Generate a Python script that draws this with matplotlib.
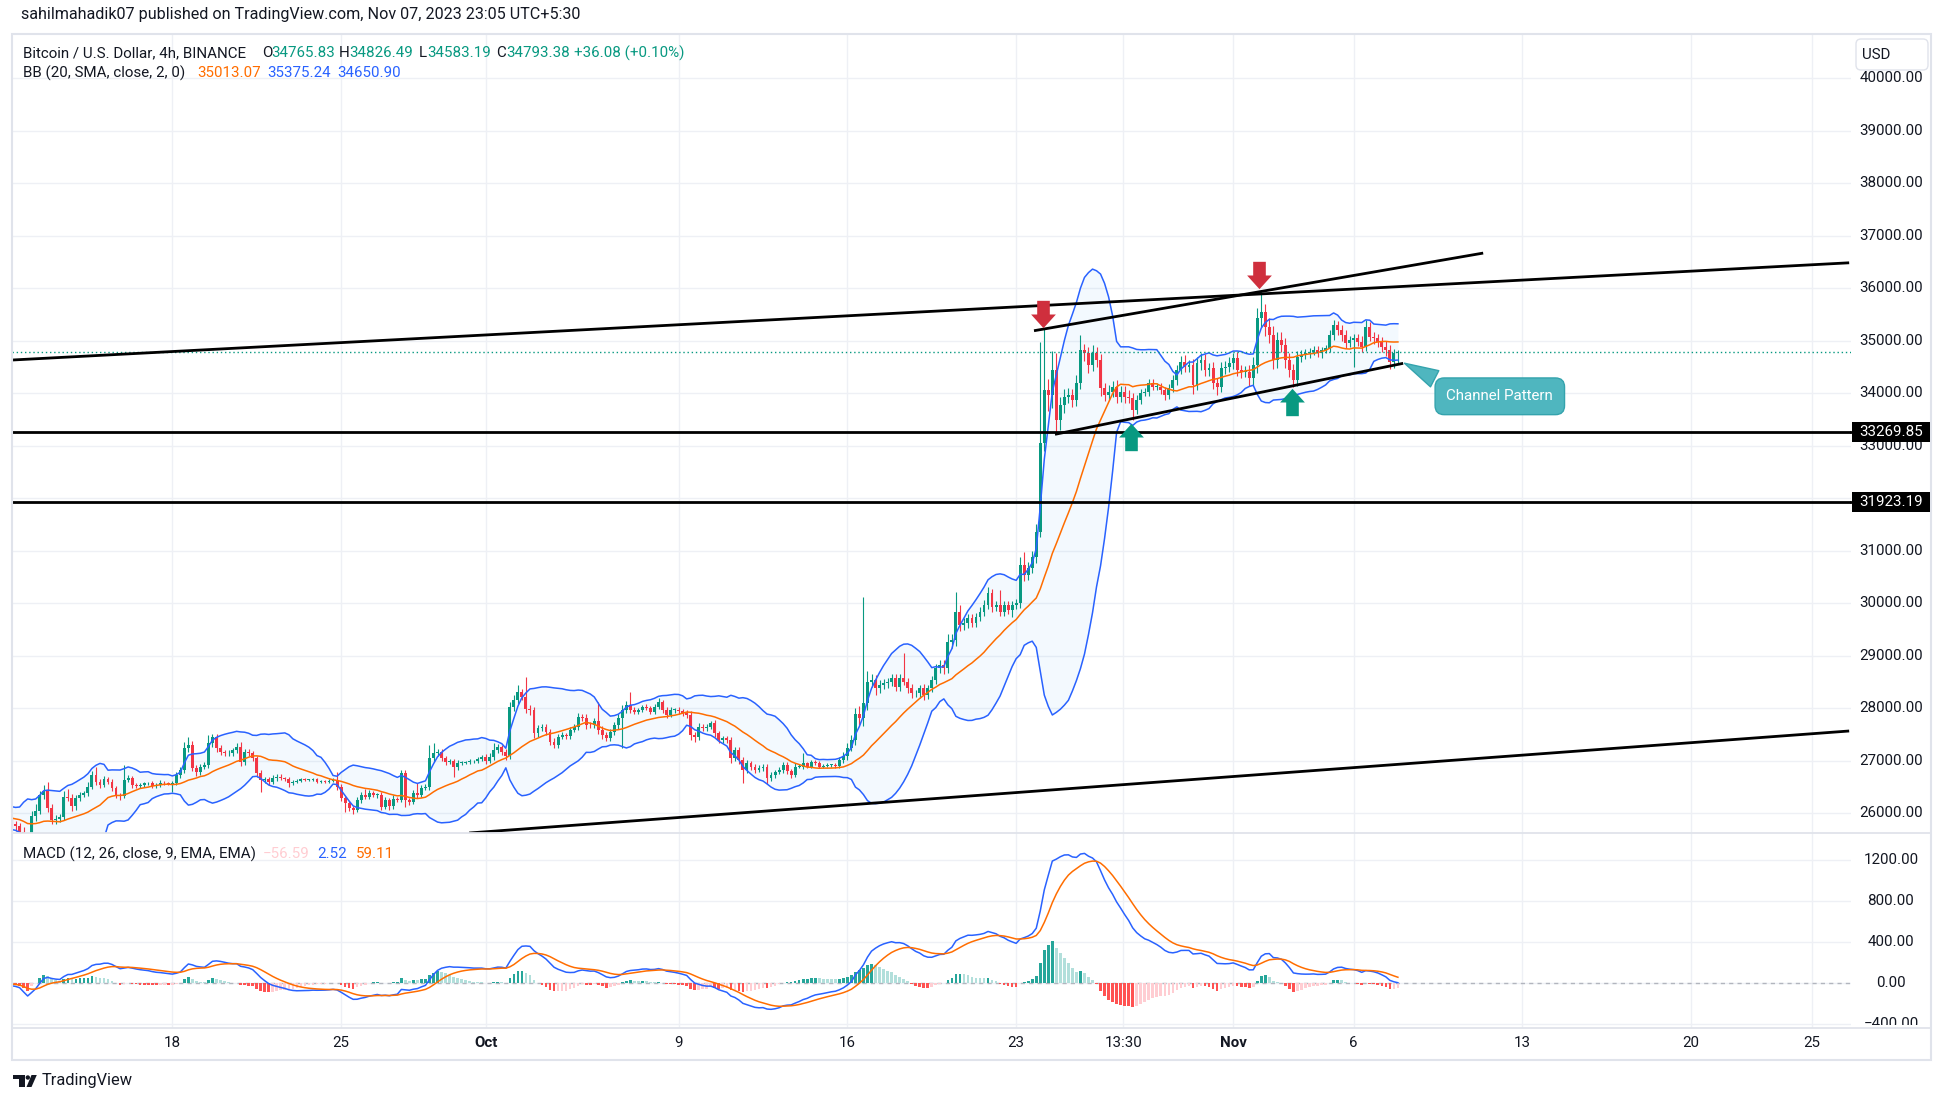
import numpy as np
import pandas as pd
import matplotlib
matplotlib.use("Agg")
import matplotlib.pyplot as plt
from matplotlib import transforms
from matplotlib.lines import Line2D
from matplotlib.patches import Rectangle, FancyBboxPatch, Polygon, Circle

plt.rcParams['font.family'] = ['Roboto', 'DejaVu Sans']

W, H = 1946, 1104
FS = 10.9
TXT = '#131722'
UP, DOWN = '#089981', '#f23645'

# time axis: days since Sep 1 (local UTC+5:30), one bar every 4h
first_bar = 10 + 8 / 24      # Sep 11 08:00

# closes before the visible range (only feed the indicators)
warmup_close = [25780, 25820, 25760, 25790,
                25740, 25680, 25810, 25700, 25750, 25760,
                25790, 25850, 26050, 26180, 26220, 26240,
                26150, 26050, 25950, 25900, 25980, 26050,
                25950, 26000, 25920, 26010, 25970, 25980,
                26020, 25900, 25700, 25650, 25780, 25820,
                25880, 25870]

# 4h closes, Sep 11 08:00 -> Nov 7 20:00
close = [25800, 25750, 25650, 25250,
         25150, 25950, 26050, 26350, 26430, 26100,
         25870, 25900, 25930, 26320, 26300, 26130,
         26290, 26350, 26380, 26510, 26730, 26600,
         26540, 26660, 26600, 26475, 26350, 26330,
         26635, 26665, 26540, 26520, 26540, 26570,
         26570, 26520, 26540, 26585, 26570, 26560,
         26570, 26730, 26820, 27240, 27300, 26860,
         26790, 26890, 26920, 27333, 27460, 27240,
         27170, 27140, 27150, 27200, 27270, 26980,
         27170, 27140, 27050, 26760, 26640, 26650,
         26600, 26670, 26700, 26670, 26650, 26570,
         26600, 26620, 26650, 26640, 26640, 26650,
         26600, 26610, 26600, 26620, 26640, 26510,
         26285, 26190, 26095, 26060, 26250, 26350,
         26320, 26380, 26350, 26350, 26125, 26250,
         26130, 26280, 26250, 26760, 26250, 26220,
         26380, 26350, 26490, 26500, 27050, 27140,
         27170, 27050, 26980, 26990, 26890, 26960,
         26960, 26970, 26990, 26990, 27040, 27065,
         27000, 27080, 27205, 27256, 27174, 27100,
         28031, 28158, 28317, 28222, 27990, 27968,
         27523, 27618, 27650, 27555, 27364, 27300,
         27460, 27490, 27470, 27587, 27650, 27840,
         27810, 27682, 27680, 27764, 27587, 27491,
         27430, 27555, 27680, 27809, 27968, 28063,
         27968, 27936, 27968, 28031, 28000, 27936,
         28031, 28126, 27968, 27873, 27968, 27968,
         27940, 27905, 27873, 27491, 27460, 27650,
         27620, 27650, 27713, 27523, 27396, 27430,
         27396, 27047, 27205, 27015, 26825, 26950,
         26890, 26825, 26860, 26890, 26666, 26730,
         26790, 26825, 26920, 26800, 26730, 26890,
         26890, 26950, 26890, 26984, 26965, 26890,
         26900, 26920, 26920, 26900, 27015, 27100,
         27250, 27400, 27890, 27810, 28094, 28507,
         28540, 28380, 28440, 28475, 28507, 28571,
         28412, 28571, 28507, 28380, 28285, 28285,
         28380, 28253, 28380, 28539, 28761, 28825,
         28761, 29269, 29300, 29841, 29587, 29620,
         29714, 29620, 29746, 29841, 29968, 30190,
         29936, 29968, 29841, 29968, 29873, 29968,
         30000, 30730, 30540, 30666, 30889, 31365,
         33048, 34064, 33968, 34450, 33500, 33778,
         33937, 33969, 33874, 34191, 34826, 34762,
         34540, 34762, 34636, 34096, 33969, 34033,
         34127, 33937, 34033, 33937, 33920, 33683,
         33874, 34001, 34033, 34191, 34127, 34127,
         34064, 33969, 34096, 34255, 34445, 34604,
         34509, 34540, 34159, 34572, 34636, 34445,
         34477, 34191, 34127, 34477, 34509, 34572,
         34667, 34445, 34413, 34413, 34286, 34540,
         35429, 35556, 35271, 35112, 34636, 35017,
         34921, 34636, 34445, 34255, 34699, 34731,
         34762, 34794, 34826, 34762, 34826, 34858,
         35112, 35302, 35207, 35112, 34953, 35017,
         35048, 34985, 34890, 35270, 35080, 35048,
         34985, 34890, 34826, 34604, 34766, 34793]

# wick length above / below the body, in USD
wick_up = [60, 50, 70, 80,
           60, 90, 120, 80, 110, 170,
           70, 60, 50, 100, 140, 60,
           50, 60, 40, 80, 70, 160,
           60, 50, 40, 60, 50, 40,
           285, 60, 40, 30, 40, 30,
           30, 40, 30, 40, 30, 30,
           40, 50, 60, 120, 160, 80,
           60, 40, 50, 157, 60, 60,
           60, 40, 50, 40, 60, 80,
           50, 60, 40, 50, 60, 50,
           50, 60, 40, 40, 30, 40,
           30, 40, 30, 30, 20, 30,
           30, 20, 30, 30, 30, 150,
           40, 50, 40, 40, 60, 50,
           120, 60, 50, 40, 60, 60,
           50, 60, 40, 70, 60, 50,
           60, 190, 50, 60, 250, 190,
           60, 50, 40, 50, 40, 50,
           40, 30, 40, 30, 40, 40,
           60, 70, 125, 60, 50, 60,
           80, 100, 127, 60, 378, 80,
           60, 70, 60, 50, 60, 80,
           50, 60, 40, 50, 60, 80,
           60, 80, 50, 60, 362, 80,
           50, 60, 50, 80, 90, 80,
           254, 50, 40, 40, 50, 40,
           60, 70, 40, 50, 50, 40,
           50, 40, 60, 70, 60, 70,
           60, 50, 50, 60, 50, 40,
           50, 60, 60, 50, 60, 70,
           50, 40, 60, 50, 40, 50,
           40, 50, 60, 50, 50, 60,
           40, 190, 30, 40, 30, 30,
           30, 30, 20, 30, 60, 70,
           80, 90, 120, 150, 2030, 200,
           120, 100, 90, 80, 70, 90,
           80, 90, 477, 70, 80, 60,
           70, 80, 60, 80, 90, 100,
           90, 150, 120, 381, 120, 100,
           80, 90, 70, 80, 90, 120,
           90, 80, 285, 80, 70, 80,
           90, 150, 254, 120, 110, 150,
           1936, 1175, 200, 349, 317, 150,
           150, 130, 120, 150, 286, 120,
           120, 150, 120, 110, 100, 120,
           100, 120, 110, 100, 120, 90,
           90, 80, 70, 80, 90, 70,
           70, 60, 80, 90, 100, 110,
           120, 100, 110, 120, 130, 110,
           100, 110, 100, 120, 110, 120,
           110, 120, 100, 110, 120, 150,
           200, 413, 150, 160, 170, 150,
           150, 140, 130, 120, 110, 100,
           80, 70, 80, 70, 60, 70,
           90, 100, 80, 90, 100, 80,
           80, 90, 100, 120, 90, 80,
           90, 80, 100, 90, 80, 33]

wick_dn = [80, 90, 250, 200,
           250, 100, 90, 60, 80, 70,
           80, 70, 60, 50, 60, 90,
           60, 50, 40, 50, 40, 70,
           60, 40, 50, 50, 60, 80,
           40, 40, 50, 40, 30, 40,
           30, 40, 30, 30, 40, 30,
           150, 40, 50, 60, 80, 60,
           80, 60, 40, 60, 70, 80,
           60, 50, 40, 50, 60, 80,
           60, 40, 50, 70, 230, 60,
           60, 40, 50, 40, 40, 60,
           30, 20, 30, 30, 20, 30,
           30, 30, 20, 30, 30, 60,
           60, 160, 60, 80, 40, 50,
           40, 50, 40, 60, 60, 50,
           60, 50, 40, 40, 130, 60,
           50, 60, 40, 50, 60, 80,
           50, 60, 60, 50, 190, 60,
           40, 30, 30, 40, 30, 40,
           60, 50, 60, 50, 70, 80,
           60, 80, 70, 60, 80, 100,
           80, 60, 50, 60, 70, 60,
           60, 50, 60, 50, 40, 60,
           50, 70, 60, 50, 80, 70,
           60, 50, 60, 70, 569, 60,
           50, 40, 40, 40, 30, 50,
           40, 50, 60, 50, 40, 50,
           50, 60, 60, 90, 100, 60,
           50, 60, 40, 60, 60, 50,
           60, 80, 60, 70, 255, 60,
           60, 50, 40, 50, 100, 50,
           50, 40, 50, 60, 50, 40,
           30, 40, 30, 30, 40, 30,
           30, 20, 30, 30, 40, 50,
           80, 60, 90, 120, 150, 120,
           100, 120, 80, 70, 90, 80,
           90, 80, 70, 90, 80, 70,
           80, 90, 70, 60, 80, 90,
           100, 90, 120, 110, 120, 90,
           90, 80, 70, 80, 90, 70,
           100, 90, 80, 90, 80, 127,
           80, 90, 120, 100, 90, 120,
           100, 150, 300, 250, 280, 200,
           150, 120, 130, 110, 100, 150,
           150, 120, 130, 150, 120, 100,
           110, 120, 100, 120, 110, 190,
           80, 70, 60, 80, 70, 60,
           80, 90, 70, 80, 90, 80,
           100, 110, 180, 100, 120, 110,
           120, 110, 150, 100, 110, 100,
           100, 110, 120, 100, 150, 130,
           150, 160, 170, 150, 180, 160,
           130, 150, 140, 127, 120, 110,
           70, 80, 60, 70, 80, 60,
           80, 90, 100, 110, 90, 80,
           508, 90, 100, 80, 90, 100,
           100, 110, 120, 150, 130, 183]

# drawings (day, price)
resist_line_x, resist_line_y = [10.35, 86.55], [34634, 36486]
chan_top_x, chan_top_y = [52.74, 71.37], [35192, 36671]
chan_bot_x, chan_bot_y = [53.61, 68.05], [33219, 34571]
support_line_x, support_line_y = [29.31, 86.55], [25625, 27568]
levels = [33269.85, 31923.19]
sell_arrows_x, sell_arrows_y = [53.13, 62.08], [35516, 36250]
buy_arrows_x, buy_arrows_y = [56.76, 63.43], [33170, 33844]
callout_tip = (68.0, 34598)
callout_box = (72.06, 33943)

date_ticks = [17, 24, 30, 38, 45, 52, 56.44, 61, 66, 73, 80, 85]
date_labels = ['18', '25', 'Oct', '9', '16', '23', '13:30', 'Nov', '6', '13', '20', '25']
price_ticks = [26000, 27000, 28000, 29000, 30000, 31000, 33000, 34000,
               35000, 36000, 37000, 38000, 39000, 40000]
macd_ticks = [1200, 800, 400, 0, -400]

# indicators
allc = pd.Series(warmup_close + close, dtype=float)
nw = len(warmup_close)
t_all = first_bar + (np.arange(len(allc)) - nw) / 6
basis = allc.rolling(20).mean()
dev = allc.rolling(20).std(ddof=0)
upper, lower = basis + 2 * dev, basis - 2 * dev
macd = allc.ewm(span=12, adjust=False).mean() - allc.ewm(span=26, adjust=False).mean()
signal = macd.ewm(span=9, adjust=False).mean()
hist = (macd - signal).values

o = np.r_[allc.values[nw - 1:-1]]
c = np.array(close, float)
t = t_all[nw:]
hi = np.maximum(o, c) + np.array(wick_up)
lo = np.minimum(o, c) - np.array(wick_dn)

fig = plt.figure(figsize=(W / 100, H / 100), dpi=100)
px = transforms.Affine2D().scale(1 / W, -1 / H).translate(0, 1) + fig.transFigure


def fx(x):
    return x / W


def fy(y):
    return 1 - y / H


ax = fig.add_axes([fx(12), fy(833), fx(1851) - fx(12), fy(34) - fy(833)])
axm = fig.add_axes([fx(12), fy(1028), fx(1851) - fx(12), fy(833) - fy(1028)])
xl = (10.351, 86.626)
for a in (ax, axm):
    a.set_xlim(*xl)
    a.set_xticks([])
    a.set_yticks([])
    for s in a.spines.values():
        s.set_visible(False)
    for d in date_ticks:
        a.axvline(d, color='#eef0f5', lw=1, zorder=0)
ax.set_ylim(25625, 40844)
axm.set_ylim(-439, 1463)
for v in range(26000, 41000, 1000):
    ax.axhline(v, color='#eef0f5', lw=1, zorder=0)
for v in macd_ticks:
    axm.axhline(v, color='#eef0f5', lw=1, zorder=0)

# bollinger bands
ax.fill_between(t_all, lower, upper, color='#2196f3', alpha=0.05, lw=0, zorder=1)

# candles
col = np.where(c >= o, UP, DOWN)
ax.vlines(t, lo, hi, colors=col, lw=0.8, zorder=2)
ax.bar(t, np.maximum(np.abs(c - o), 10), bottom=np.minimum(o, c), width=0.12,
       color=col, linewidth=0, zorder=2)

ax.plot(t_all, upper, color='#2962ff', lw=1.1, zorder=3)
ax.plot(t_all, lower, color='#2962ff', lw=1.1, zorder=3)
ax.plot(t_all, basis, color='#ff6d00', lw=1.1, zorder=3)

ax.axhline(close[-1], color=UP, lw=1, ls=(0, (1, 2)), zorder=3)

# drawings
for xs, ys in [(resist_line_x, resist_line_y), (chan_top_x, chan_top_y),
               (chan_bot_x, chan_bot_y), (support_line_x, support_line_y)]:
    ax.plot(xs, ys, color='black', lw=2, zorder=5, solid_capstyle='butt')
for lv in levels:
    ax.axhline(lv, color='black', lw=2, zorder=5)

down_arrow = [(-6.3, 13.65), (6.3, 13.65), (6.3, 0), (12.35, 0), (0, -13.65),
              (-12.35, 0), (-6.3, 0), (-6.3, 13.65)]
up_arrow = [(x, -y) for x, y in down_arrow]
ax.plot(sell_arrows_x, sell_arrows_y, ls='none', marker=down_arrow, ms=19.7,
        color='#cf2f3d', mew=0, zorder=6)
ax.plot(buy_arrows_x, buy_arrows_y, ls='none', marker=up_arrow, ms=19.7,
        color='#089981', mew=0, zorder=6)

ax.annotate('Channel Pattern', xy=callout_tip, xytext=callout_box, ha='center', va='center',
            color='white', fontsize=FS, zorder=7, annotation_clip=False,
            bbox=dict(boxstyle='round,pad=0.75,rounding_size=0.6', fc='#4fb6bf', ec='#34a3ad', lw=1),
            arrowprops=dict(arrowstyle='wedge,tail_width=1.2,shrink_factor=0.5',
                            fc='#4fb6bf', ec='#34a3ad', lw=1, relpos=(0.12, 0.85)))

# macd pane
hcol = []
for i, h in enumerate(hist):
    prev = hist[i - 1] if i > 0 else h
    if h >= 0:
        hcol.append('#26a69a' if h > prev else '#b2dfdb')
    else:
        hcol.append('#ff5252' if h < prev else '#ffcdd2')
axm.axhline(0, color='#b2b5be', lw=1, ls=(0, (3, 3)), zorder=1)
axm.bar(t_all, hist, width=0.11, color=hcol, linewidth=0, zorder=2)
axm.plot(t_all, macd, color='#2962ff', lw=1.1, zorder=3)
axm.plot(t_all, signal, color='#ff6d00', lw=1.1, zorder=3)

# price scale
ytr = transforms.blended_transform_factory(fig.transFigure, ax.transData)
for v in price_ticks:
    fig.text(fx(1891), v, f'{v:.2f}', transform=ytr, ha='center', va='center',
             fontsize=FS, color=TXT)
hh = 10 * (40844 - 25625) / 799
for lv in levels:
    fig.add_artist(Rectangle((fx(1852), lv - hh), fx(1930) - fx(1852), 2 * hh,
                             transform=ytr, fc='black', ec='none', zorder=4))
    fig.text(fx(1891), lv, f'{lv:.2f}', transform=ytr, ha='center', va='center',
             fontsize=FS, color='white', zorder=5)
    fig.add_artist(Line2D([fx(1851), fx(1852)], [lv, lv], transform=ytr, color='black', lw=2))

ytm = transforms.blended_transform_factory(fig.transFigure, axm.transData)
clip = transforms.TransformedBbox(transforms.Bbox.from_extents(0, fy(1025), 1, fy(833)),
                                  fig.transFigure)
for v in macd_ticks:
    lab = f'{v:.2f}'.replace('-', '\u2212')
    tx = fig.text(fx(1891), v, lab, transform=ytm, ha='center', va='center',
                  fontsize=FS, color=TXT)
    tx.set_clip_box(clip)
    tx.set_clip_on(True)

fig.add_artist(FancyBboxPatch((1856, 39), 72, 31, boxstyle='round,pad=0,rounding_size=5',
                              transform=px, fc='white', ec='#e0e3eb', lw=1))
fig.text(1862, 55, 'USD', transform=px, va='center', fontsize=FS, color=TXT)

# time scale
xtr = transforms.blended_transform_factory(axm.transData, fig.transFigure)
for d, lab in zip(date_ticks, date_labels):
    fig.text(d, fy(1043), lab, transform=xtr, ha='center', va='center', fontsize=FS,
             color=TXT, fontweight='bold' if lab in ('Oct', 'Nov') else 'normal')

# frame
fig.add_artist(Rectangle((12, 34), 1919, 1026, transform=px, fill=False, ec='#e0e3eb', lw=1.5))
for yy in (833, 1028):
    fig.add_artist(Line2D([12, 1931], [yy, yy], transform=px, color='#e0e3eb', lw=1.3))

# legends
fig.text(21, 15, 'sahilmahadik07 published on TradingView.com, Nov 07, 2023 23:05 UTC+5:30',
         transform=px, va='center', fontsize=11.6, color=TXT)
head1 = [(23, 'Bitcoin / U.S. Dollar, 4h, BINANCE', TXT), (262, 'O', TXT), (271, '34765.83', UP),
         (339, 'H', TXT), (349, '34826.49', UP), (419, 'L', TXT), (427, '34583.19', UP),
         (496, 'C', TXT), (506, '34793.38', UP), (574, '+36.08 (+0.10%)', UP)]
head2 = [(23, 'BB (20, SMA, close, 2, 0)', TXT), (197, '35013.07', '#ff6d00'),
         (267, '35375.24', '#2962ff'), (337, '34650.90', '#2962ff')]
head3 = [(23, 'MACD (12, 26, close, 9, EMA, EMA)', TXT), (263, '\u221256.59', '#ffcdd2'),
         (317, '2.52', '#2962ff'), (356, '59.11', '#ff6d00')]
for yy, row in [(53, head1), (73, head2), (854, head3)]:
    for x0, s, cc in row:
        fig.text(x0, yy, s, transform=px, va='center', fontsize=FS, color=cc)

# tradingview mark
fig.add_artist(Polygon([(13.3, 1075), (25, 1075), (25, 1087), (19.3, 1087), (19.3, 1079), (13.3, 1079)],
                       closed=True, transform=px, fc=TXT, ec='none'))
fig.add_artist(Circle((27.8, 1077.5), 2.2, transform=px, fc=TXT, ec='none'))
fig.add_artist(Polygon([(31.5, 1075), (36.8, 1075), (31.5, 1087), (26.5, 1087)],
                       closed=True, transform=px, fc=TXT, ec='none'))
fig.text(42, 1081, 'TradingView', transform=px, va='center', fontsize=11.8, color=TXT)

fig.savefig('out.png', dpi=100, facecolor='white')
